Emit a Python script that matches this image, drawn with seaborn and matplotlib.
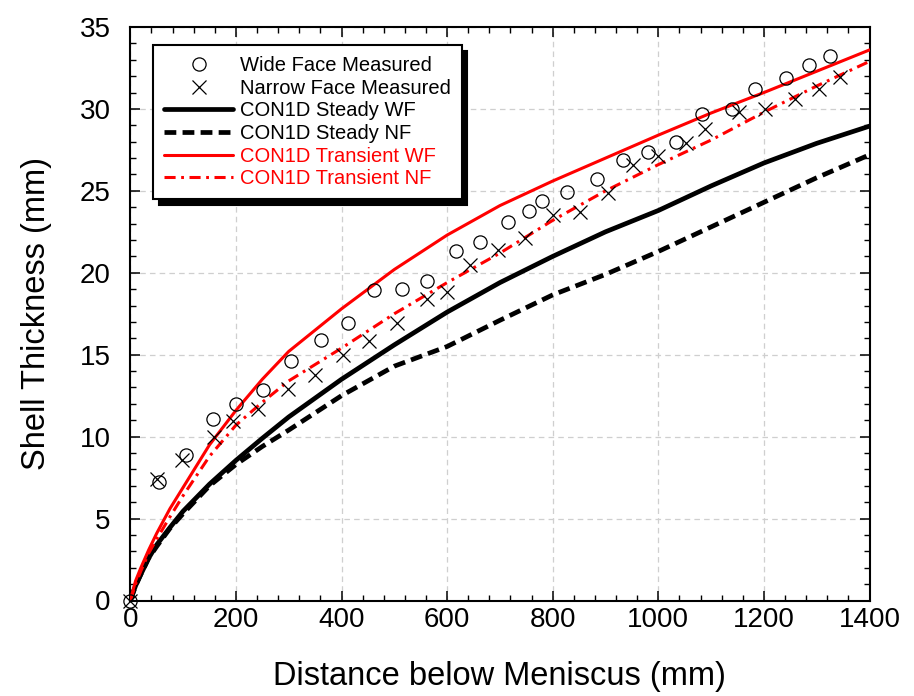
import numpy as np
import pandas as pd
import matplotlib
matplotlib.use("Agg")
import matplotlib.pyplot as plt
import seaborn as sns

# ---------------- data ----------------
x_model = [0, 10, 20, 35, 50, 75, 100, 150, 200, 250, 300, 400, 500, 600,
           700, 800, 900, 1000, 1100, 1200, 1300, 1400]
steady_wf = [0, 0.9, 1.6, 2.6, 3.4, 4.45, 5.45, 7.1, 8.55, 9.9, 11.2, 13.5,
             15.6, 17.6, 19.4, 21.0, 22.5, 23.8, 25.3, 26.7, 27.9, 28.95]
steady_nf = [0, 0.9, 1.6, 2.6, 3.3, 4.4, 5.3, 7.0, 8.3, 9.4, 10.4, 12.5,
             14.3, 15.5, 17.1, 18.65, 19.9, 21.3, 22.8, 24.3, 25.8, 27.2]
trans_wf = [0, 1.2, 2.0, 3.1, 4.1, 5.6, 6.9, 9.5, 11.6, 13.5, 15.2, 17.8,
            20.2, 22.3, 24.1, 25.6, 27.0, 28.4, 29.75, 31.0, 32.3, 33.6]
trans_nf = [0, 1.0, 1.8, 2.9, 3.75, 5.1, 6.4, 8.8, 10.7, 12.1, 13.4, 15.4,
            17.5, 19.4, 21.2, 23.2, 25.0, 26.6, 28.1, 29.8, 31.4, 32.9]

wf_x = [0, 55, 105, 156, 200, 252, 305, 361, 412, 462, 514, 561, 617, 663,
        715, 755, 780, 828, 883, 934, 981, 1033, 1083, 1139, 1183, 1241,
        1286, 1325]
wf_y = [0, 7.25, 8.87, 11.1, 11.98, 12.83, 14.6, 15.9, 16.92, 18.95, 19.0,
        19.5, 21.3, 21.9, 23.1, 23.8, 24.4, 24.9, 25.7, 26.9, 27.4, 28.0,
        29.7, 30.0, 31.2, 31.9, 32.7, 33.2]
nf_x = [0, 50, 97, 159, 195, 242, 298, 350, 402, 453, 505, 561, 599, 643,
        697, 748, 800, 852, 904, 953, 1000, 1052, 1089, 1153, 1203, 1259,
        1304, 1344]
nf_y = [0, 7.4, 8.55, 9.95, 10.94, 11.66, 12.9, 13.75, 14.96, 15.83, 16.92,
        18.4, 18.8, 20.5, 21.4, 22.13, 23.5, 23.7, 24.87, 26.58, 27.1, 27.95,
        28.8, 29.8, 30.0, 30.6, 31.2, 31.97]

x_ticks = [0, 200, 400, 600, 800, 1000, 1200, 1400]
y_ticks = [0, 5, 10, 15, 20, 25, 30, 35]

labels = ["Wide Face Measured", "Narrow Face Measured", "CON1D Steady WF",
          "CON1D Steady NF", "CON1D Transient WF", "CON1D Transient NF"]

# ---------------- style ----------------
sns.set_theme(style="white")
plt.rcParams["font.family"] = ["Liberation Sans", "DejaVu Sans"]
plt.rcParams["lines.scale_dashes"] = False
for k in ["text.color", "axes.labelcolor", "xtick.color", "ytick.color"]:
    plt.rcParams[k] = "black"

fig = plt.figure(figsize=(9.14, 6.96), dpi=100)
ax = fig.add_axes([130.3 / 914, 95.5 / 696, (869.5 - 130.3) / 914, (600.5 - 27) / 696])

df_model = pd.DataFrame({"x": x_model, "swf": steady_wf, "snf": steady_nf,
                         "twf": trans_wf, "tnf": trans_nf})
df_wf = pd.DataFrame({"x": wf_x, "y": wf_y})
df_nf = pd.DataFrame({"x": nf_x, "y": nf_y})

sns.lineplot(data=df_wf, x="x", y="y", ax=ax, linestyle="", marker="o",
             markersize=9.5, markerfacecolor="none", markeredgecolor="black",
             markeredgewidth=0.9, color="black", label=labels[0], zorder=5,
             clip_on=False)
sns.lineplot(data=df_nf, x="x", y="y", ax=ax, linestyle="", marker="x",
             markersize=9.5, markeredgecolor="black", markeredgewidth=0.9,
             color="black", label=labels[1], zorder=5, clip_on=False)
sns.lineplot(data=df_model, x="x", y="swf", ax=ax, color="black", lw=3.4,
             linestyle="-", label=labels[2], zorder=3)
sns.lineplot(data=df_model, x="x", y="snf", ax=ax, color="black", lw=3.4,
             linestyle=(0, (8.5, 4.5)), label=labels[3], zorder=3)
sns.lineplot(data=df_model, x="x", y="twf", ax=ax, color="red", lw=2.2,
             linestyle="-", label=labels[4], zorder=4)
sns.lineplot(data=df_model, x="x", y="tnf", ax=ax, color="red", lw=2.2,
             linestyle=(0, (8, 4, 2, 4)), label=labels[5], zorder=4)

ax.set_xlim(0, 1400)
ax.set_ylim(0, 35)
ax.set_xticks(x_ticks)
ax.set_yticks(y_ticks)
ax.set_xticklabels([str(v) for v in x_ticks])
ax.set_yticklabels([str(v) for v in y_ticks])
ax.set_xticks(np.arange(0, 1401, 40), minor=True)
ax.set_yticks(np.arange(0, 35.1, 1), minor=True)

ax.grid(True, which="major", color="#cfcfcf", linestyle=(0, (4, 3)), lw=0.9)
ax.set_axisbelow(True)
for sp in ax.spines.values():
    sp.set_visible(True)
    sp.set_color("black")
    sp.set_linewidth(1.5)

ax.tick_params(which="both", direction="in", top=True, right=True,
               bottom=True, left=True, color="black")
ax.tick_params(which="major", length=7, width=1.1)
ax.tick_params(which="minor", length=4, width=1.0)
ax.tick_params(axis="x", which="major", labelsize=20, pad=5)
ax.tick_params(axis="y", which="major", labelsize=20, pad=14)

ax.set_xlabel("Distance below Meniscus (mm)", fontsize=23.5, labelpad=20)
ax.set_ylabel("Shell Thickness (mm)", fontsize=23.5, labelpad=20)

leg = ax.legend(loc="upper left", bbox_to_anchor=(23 / 739, 1 - 18 / 573.5),
                fontsize=14.5, frameon=True, fancybox=False,
                shadow={"ox": 4, "oy": -4, "color": "black", "alpha": 1},
                handlelength=3.4, handletextpad=0.35, labelspacing=0.18,
                borderpad=0.55, borderaxespad=0)
leg.get_frame().set_edgecolor("black")
leg.get_frame().set_linewidth(1.5)
leg.get_frame().set_facecolor("white")
leg.get_frame().set_alpha(1)
for t, c in zip(leg.get_texts(), ["black"] * 4 + ["red"] * 2):
    t.set_color(c)

fig.savefig("out.png", dpi=100)
